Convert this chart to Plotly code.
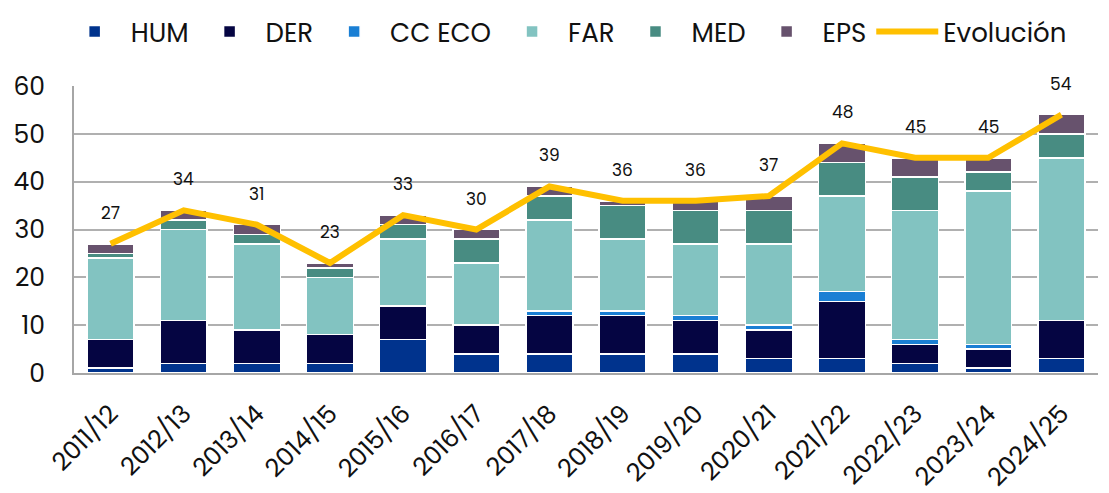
import plotly.graph_objects as go

categories = ["2011/12", "2012/13", "2013/14", "2014/15", "2015/16", "2016/17", "2017/18",
              "2018/19", "2019/20", "2020/21", "2021/22", "2022/23", "2023/24", "2024/25"]
hum = [1, 2, 2, 2, 7, 4, 4, 4, 4, 3, 3, 2, 1, 3]
der = [6, 9, 7, 6, 7, 6, 8, 8, 7, 6, 12, 4, 4, 8]
cc_eco = [0, 0, 0, 0, 0, 0, 1, 1, 1, 1, 2, 1, 1, 0]
far = [17, 19, 18, 12, 14, 13, 19, 15, 15, 17, 20, 27, 32, 34]
med = [1, 2, 2, 2, 3, 5, 5, 7, 7, 7, 7, 7, 4, 5]
eps = [2, 2, 2, 1, 2, 2, 2, 1, 2, 3, 4, 4, 3, 4]
evolucion = [27, 34, 31, 23, 33, 30, 39, 36, 36, 37, 48, 45, 45, 54]

series = [
    ("HUM", hum, "#00338D"),
    ("DER", der, "#050542"),
    ("CC ECO", cc_eco, "#1A7FD4"),
    ("FAR", far, "#82C3C1"),
    ("MED", med, "#488C82"),
    ("EPS", eps, "#67526D"),
]

FONT = "Poppins, Inter, Roboto, sans-serif"

fig = go.Figure()
for name, vals, color in series:
    fig.add_trace(go.Bar(
        x=categories, y=vals, name=name,
        marker=dict(color=color, line=dict(color="white", width=1.5)),
    ))

fig.add_trace(go.Scatter(
    x=categories, y=evolucion, name="Evolución", mode="lines",
    line=dict(color="#FFC000", width=6),
))

for c, v in zip(categories, evolucion):
    fig.add_annotation(x=c, y=v, text=str(v), showarrow=False, yshift=31,
                       font=dict(size=17, color="#111111", family=FONT))

fig.update_layout(
    barmode="stack",
    bargap=0.36,
    width=1101, height=485,
    margin=dict(l=66, r=11, t=78, b=120),
    plot_bgcolor="white",
    paper_bgcolor="white",
    font=dict(family=FONT, size=24, color="#111111"),
    legend=dict(orientation="h", x=0.046, xanchor="left", xref="container",
                y=1.0, yanchor="top", yref="container",
                font=dict(size=26), itemwidth=62, traceorder="normal"),
    showlegend=True,
)
fig.update_xaxes(tickangle=-45, showline=True, linecolor="#A6A6A6", linewidth=2,
                 tickfont=dict(size=25), ticks="", automargin=False, ticklabelstandoff=14)
fig.update_yaxes(range=[0, 60], dtick=10, showgrid=True, gridcolor="#B0B0B0", gridwidth=2,
                 showline=True, linecolor="#A6A6A6", linewidth=2, zeroline=False,
                 tickfont=dict(size=25), ticks="", automargin=False, ticklabelstandoff=22)

fig.write_html("out.html")
